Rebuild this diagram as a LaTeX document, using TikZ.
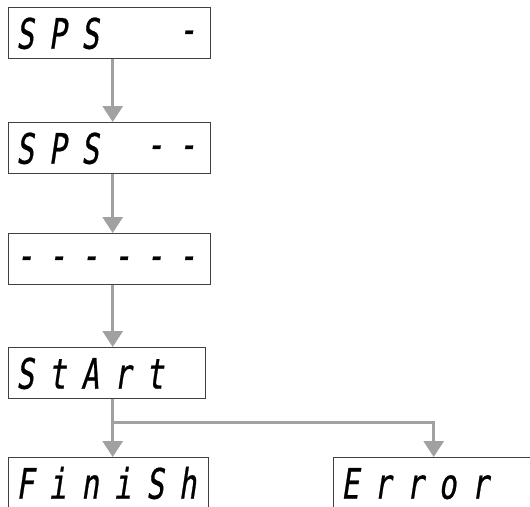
\documentclass[tikz,border=0pt]{standalone}
\usepackage{fontspec}
\usetikzlibrary{arrows.meta}
\newfontfamily\segfont{DejaVu Sans Mono}[FakeStretch=0.7, FakeSlant=0.15, FakeBold=0.6]
\newcommand{\dg}[1]{\makebox[32.5pt][c]{#1}}
\newcommand{\dsh}{\dg{\raisebox{5pt}{-}}}

\begin{document}
\begin{tikzpicture}[x=1pt, y=-1pt, >={Triangle[length=16pt, width=20pt]},
    display/.style={draw=black!75, line width=1.4pt, anchor=north west,
        minimum height=51pt, text width=202pt, inner xsep=0pt, align=left,
        text height=31pt, text depth=0pt,
        font=\segfont\fontsize{42}{42}\selectfont},
    flow/.style={->, draw=black!37, line width=3pt}]
        \useasboundingbox (0,0) rectangle (530,506);
        \clip (0,0) rectangle (530,506);

        % Display boxes
        \node[display] (sps1) at (8,7) {\dg{S}\dg{P}\dg{S}\dg{}\dg{}\dsh};
        \node[display] (sps2) at (8,122) {\dg{S}\dg{P}\dg{S}\dg{}\dsh\dsh};
        \node[display] (dash) at (8,233) {\dsh\dsh\dsh\dsh\dsh\dsh};
        \node[display, text width=197pt] (start) at (8,347) {\dg{S}\dg{t}\dg{A}\dg{r}\dg{t}};
        \node[display, text width=200pt] (finish) at (8,457) {\dg{F}\dg{i}\dg{n}\dg{i}\dg{S}\dg{h}};
        \node[display] (error) at (333,457) {\dg{E}\dg{r}\dg{r}\dg{o}\dg{r}};

        % Arrows
        \foreach \a/\b in {sps1/sps2, sps2/dash, dash/start, start/finish}
            \draw[flow] ([xshift=3pt]sps1.south |- \a.south) -- ([xshift=3pt]sps1.south |- \b.north);
        \draw[flow] ([xshift=3pt]sps1.south |- start.south) -- ++(0,23) -| ([xshift=-1pt]error.north);
    \end{tikzpicture}
\end{document}
